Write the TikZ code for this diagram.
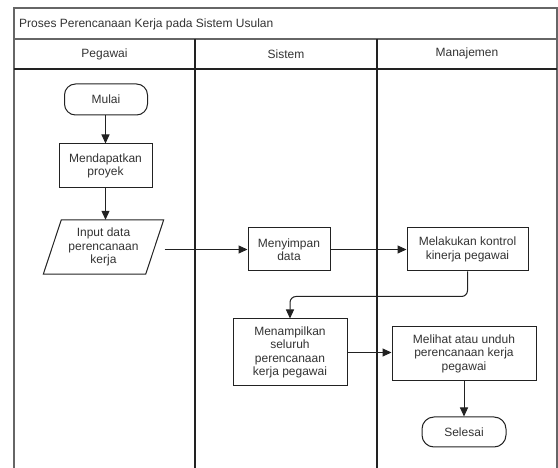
\documentclass[tikz,border=0pt]{standalone}
\usepackage{fontspec}
\setmainfont{Liberation Sans}
\usetikzlibrary{arrows.meta}
\definecolor{txt}{HTML}{333333}
\definecolor{ln}{HTML}{222222}
\definecolor{frm}{HTML}{666666}
\tikzset{
  lbl/.style={font=\fontsize{12}{13.5}\selectfont, text=txt, inner sep=0pt},
  procbox/.style={draw=ln, line width=1pt, fill=white, align=center,
    font=\fontsize{12}{13.5}\selectfont, text=txt, inner sep=0pt},
  termbox/.style={procbox, rounded corners=11pt},
  flow/.style={draw=ln, line width=1pt, -{Triangle[length=9pt,width=8pt]}},
  lane/.style={draw=ln, line width=1.2pt},
  outer/.style={draw=frm, line width=1.6pt}
}
\begin{document}
\begin{tikzpicture}[x=1pt,y=-1pt]
\useasboundingbox (0,0) rectangle (558,468);
% swimlane frame
\draw[outer] (14,468) -- (14,8) -- (557,8) -- (557,468);
\draw[draw=frm, line width=1.2pt] (14,39) -- (557,39);
\draw[lane] (14,69) -- (557,69);
\draw[lane] (195,39) -- (195,468);
\draw[lane] (377,39) -- (377,468);
% titles
\node[lbl, anchor=west] (title) at (19,24.5) {Proses Perencanaan Kerja pada Sistem Usulan};
\node[lbl] (hpeg) at (104.5,54.5) {Pegawai};
\node[lbl] (hsis) at (286,54.5) {Sistem};
\node[lbl] (hman) at (467,53.5) {Manajemen};
% Pegawai lane
\node[termbox, minimum width=83pt, minimum height=31pt] (mulai) at (106,99.5) {Mulai};
\node[procbox, minimum width=93pt, minimum height=44pt] (proj) at (105.5,166) {Mendapatkan\\proyek};
\node[lbl, align=center, minimum width=102pt, minimum height=54pt] (inp) at (103.5,247) {Input data\\perencanaan\\kerja};
\draw[ln, line width=1pt]
  ([xshift=9pt]inp.north west) -- ([xshift=9pt]inp.north east)
  -- ([xshift=-9pt]inp.south east) -- ([xshift=-9pt]inp.south west) -- cycle;
% Sistem lane
\node[procbox, minimum width=82pt, minimum height=43pt] (simpan) at (289,249.5) {Menyimpan\\data};
\node[procbox, minimum width=114pt, minimum height=67pt] (tampil) at (290,352.5) {Menampilkan\\seluruh\\perencanaan\\kerja pegawai};
% Manajemen lane
\node[procbox, minimum width=121pt, minimum height=43pt] (kontrol) at (467.5,249.5) {Melakukan kontrol\\kinerja pegawai};
\node[procbox, minimum width=144pt, minimum height=54pt] (lihat) at (464,353.5) {Melihat atau unduh\\perencanaan kerja\\pegawai};
\node[termbox, minimum width=84pt, minimum height=30pt, rounded corners=12pt] (selesai) at (464,432) {Selesai};
% connectors
\draw[flow] (mulai.south -| proj.north) -- (proj.north);
\draw[flow] (proj.south) -- (proj.south |- inp.north);
\draw[flow] ([xshift=10pt]inp.east |- simpan.west) -- (simpan.west);
\draw[flow] (simpan.east) -- (kontrol.west);
\draw[flow, rounded corners=6pt] (kontrol.south) -- ++(0,25) -| (tampil.north);
\draw[flow] (tampil.east) -- (tampil.east -| lihat.west);
\draw[flow] (lihat.south) -- (selesai.north);
\end{tikzpicture}
\end{document}
